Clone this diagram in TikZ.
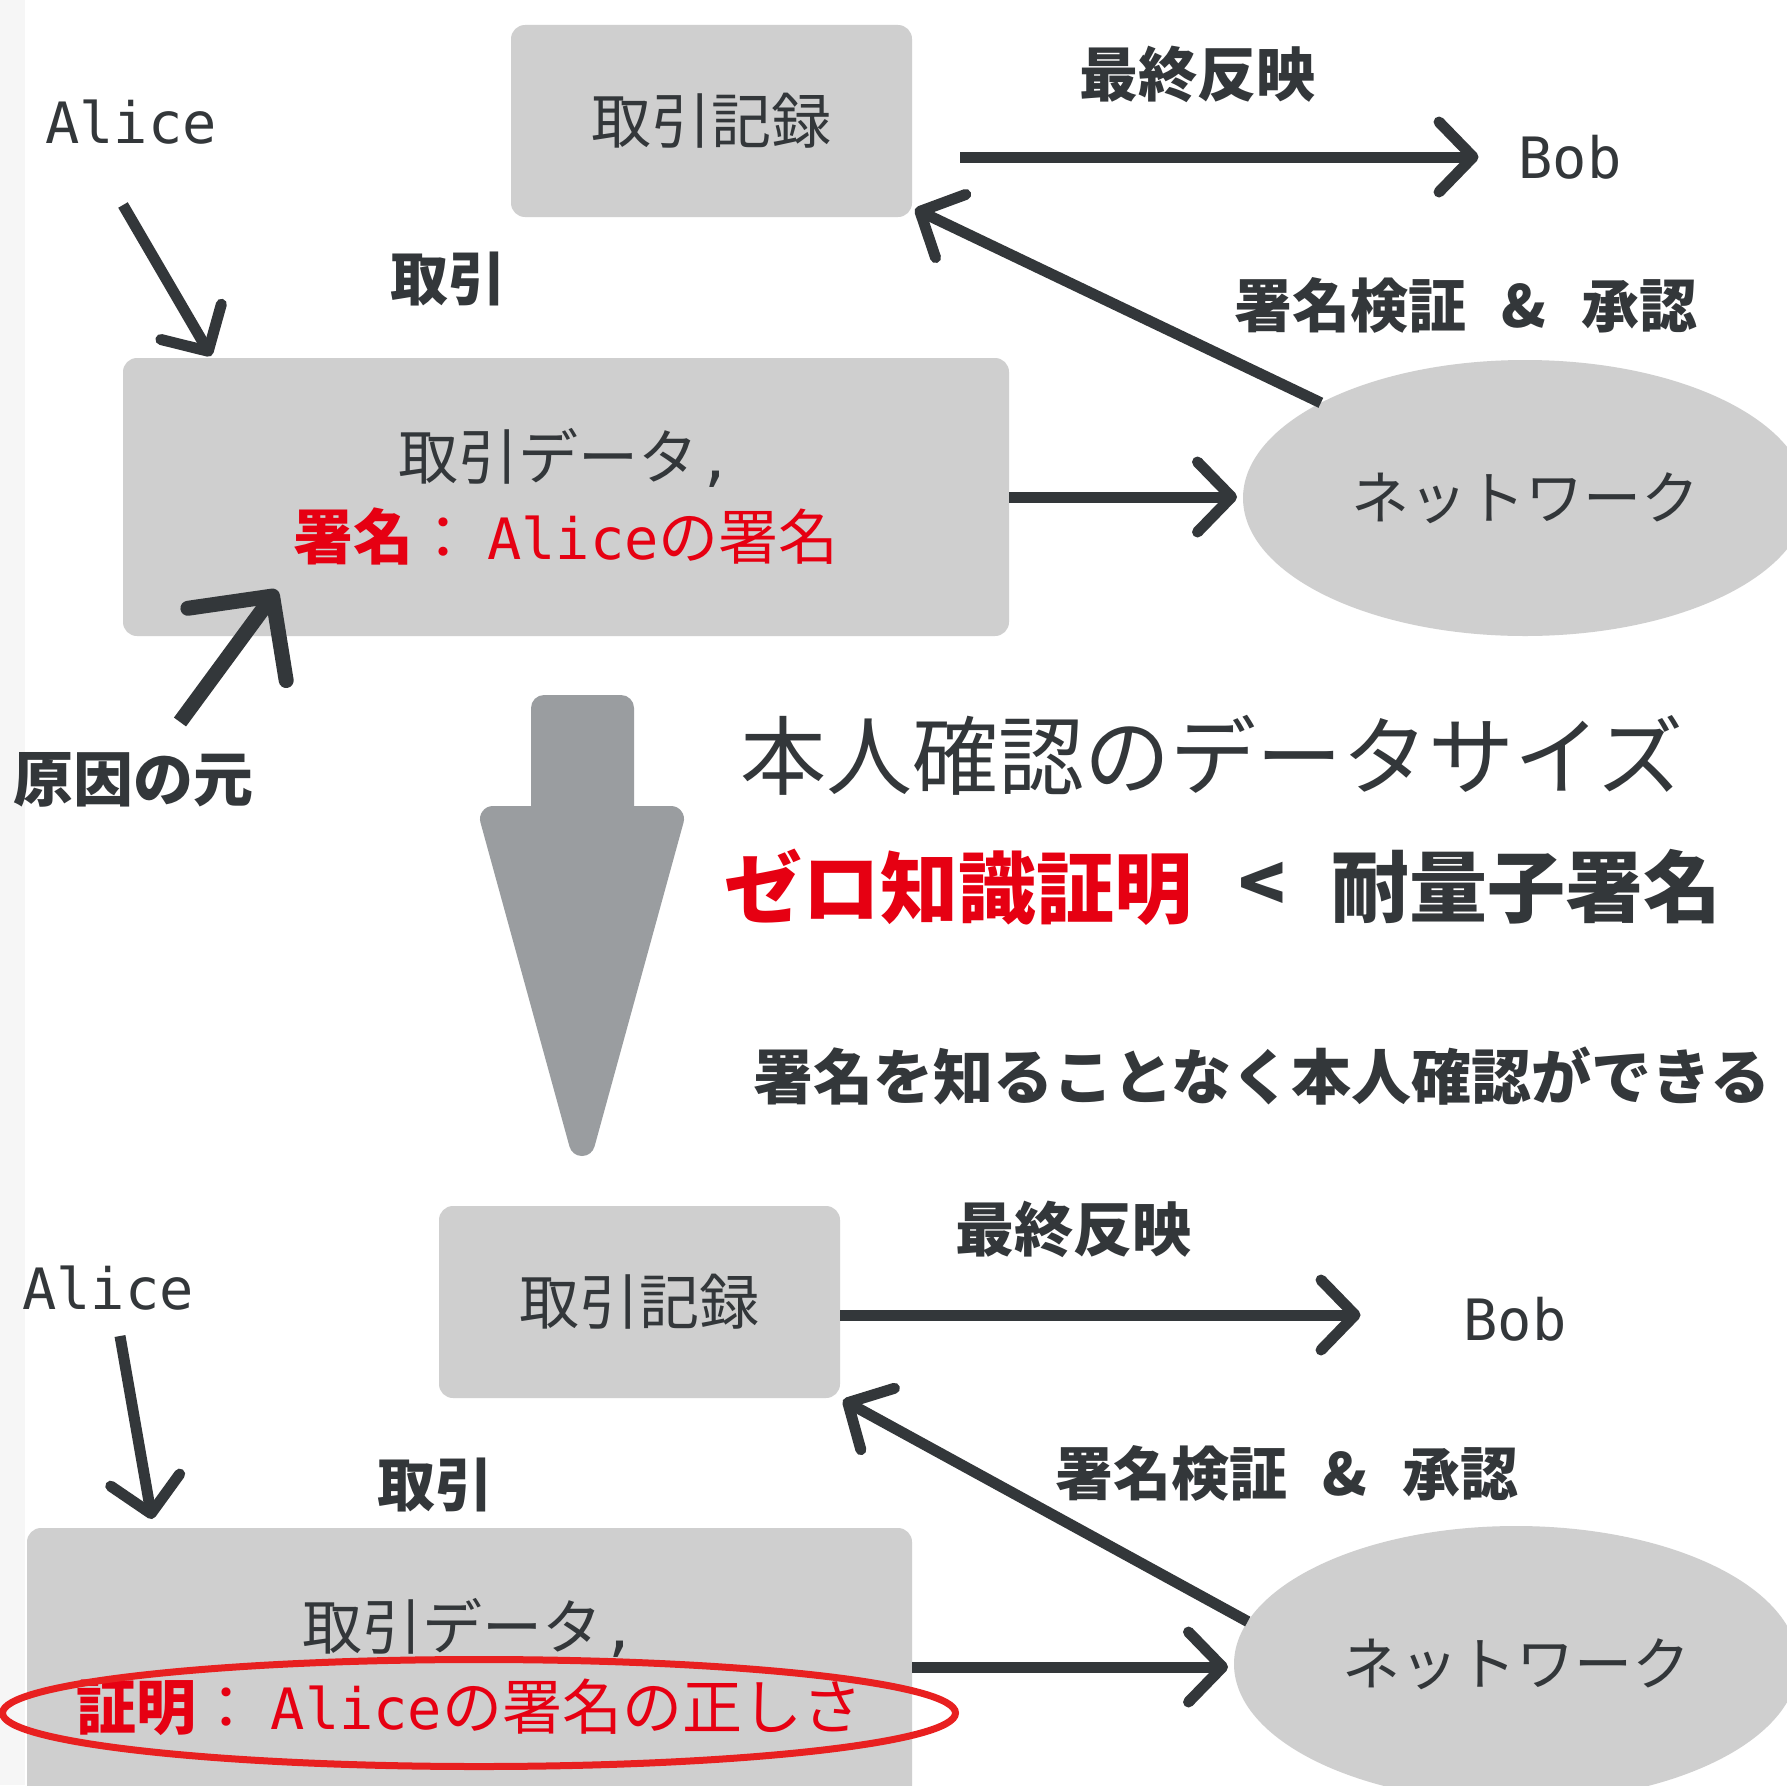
\documentclass[tikz,border=0pt]{standalone}
\usepackage{fontspec}
\setmainfont{Noto Sans CJK JP}
\newfontfamily\monof{DejaVu Sans Mono}
\usetikzlibrary{arrows.meta,shapes.geometric,calc}
\definecolor{dk}{HTML}{33373A}
\definecolor{boxc}{HTML}{CFCFCF}
\definecolor{rd}{HTML}{E60012}
\definecolor{rl}{HTML}{E82020}
\definecolor{garr}{HTML}{9A9DA0}
\definecolor{strip}{HTML}{F6F6F6}
\begin{document}
\begin{tikzpicture}[x=1pt,y=-1pt,
  every node/.style={inner sep=0pt, outer sep=0pt, text=dk},
  fs/.style={font=\fontsize{#1}{#1}\selectfont},
  bfs/.style={font=\fontsize{#1}{#1}\selectfont\bfseries},
  mono/.style={font=\fontsize{57}{57}\selectfont\monof},
  txtbox/.style={rectangle, rounded corners=14pt, fill=boxc, font=\fontsize{60}{80}\selectfont, align=center},
  recbox/.style={rectangle, rounded corners=14pt, fill=boxc, minimum width=401pt, minimum height=192pt, font=\fontsize{60}{60}\selectfont},
  net/.style={ellipse, fill=boxc, minimum width=564pt, minimum height=276pt, font=\fontsize{58}{58}\selectfont},
  arr/.style={draw=dk, line width=11pt, line cap=butt, -{Straight Barb[length=34pt,width=70pt,line join=round,line cap=round]}},
  fatarr/.style={draw=dk, line width=15pt, line cap=butt, -{Straight Barb[length=60pt,width=122pt,line join=round,line cap=round]}},
]
\useasboundingbox (0,0) rectangle (1787,1785);
\clip (0,0) rectangle (1787,1785);
\fill[white] (0,0) rectangle (1787,1785);
\fill[strip] (0,0) rectangle (25,1785);

% ---------- top part ----------
\node[recbox] (rec1) at (711.5,121) {取引記録};
\node[mono] (alice1) at (131,122) {Alice};
\node[bfs=59] (fin1) at (1197,74) {最終反映};
\node[mono] (bob1) at (1570,157) {Bob};
\node[bfs=58] (tr1) at (448,279) {取引};
\node[bfs=58] (ver1) at (1466,305) {署名検証\hspace{0.6em}\&\hspace{0.6em}承認};
\node[txtbox, minimum width=886pt, minimum height=278pt] (tx1) at (566,497)
  {取引データ{\fontsize{57}{80}\selectfont\monof ,}\\
   {\color{rd}{\bfseries 署名}：\hspace{14pt}{\fontsize{57}{80}\selectfont\monof Alice}の署名}};
\node[net] (net1) at (1525,498) {ネットワーク};
\node[bfs=60] (src) at (133,780) {原因の元};

\coordinate (a1) at (123,205);
\coordinate (f1) at (180,722);
\coordinate (f2) at (277,590);
\draw[arr] (a1) -- ($(tx1.north west)+(88,-2)$);
\draw[arr] ($(rec1.east |- bob1.west)+(48,0)$) -- ($(bob1.west)+(-40,0)$);
\draw[arr] (net1.155.5) -- ($(rec1.south east)+(3,-8)$);
\draw[arr] (tx1.east) -- ($(tx1.east -| net1.west)+(-6,0)$);
\draw[fatarr] (f1) -- (f2);

% ---------- middle ----------
\filldraw[garr, line width=26pt, line join=round]
  (493,819) -- (544,819) -- (544,708) -- (621,708) -- (621,819) -- (671,819) -- (582,1143) -- cycle;
\node[fs=86] (size) at (1212,755) {本人確認のデータサイズ};
\node[bfs=78, text=rd] (zkp) at (958,887) {ゼロ知識証明};
\node[bfs=78] (lt) at (1262,887) {<};
\node[bfs=78] (pq) at (1526,887) {耐量子署名};
\node[bfs=60] (note) at (1262,1076) {署名を知ることなく本人確認ができる};

% ---------- bottom part ----------
\node[recbox] (rec2) at (639.5,1302) {取引記録};
\node[mono] (alice2) at (108,1288) {Alice};
\node[bfs=59] (fin2) at (1073,1229) {最終反映};
\node[mono] (bob2) at (1515,1319) {Bob};
\node[bfs=58] (tr2) at (435,1485) {取引};
\node[bfs=58] (ver2) at (1287,1473) {署名検証\hspace{0.6em}\&\hspace{0.6em}承認};
\node[txtbox, minimum width=885pt, minimum height=278pt] (tx2) at (469.5,1667)
  {取引データ{\fontsize{57}{80}\selectfont\monof ,}\\
   {\color{rd}{\bfseries 証明}：\hspace{14pt}{\fontsize{57}{80}\selectfont\monof Alice}の署名の正しさ}};
\node[net] (net2) at (1516,1664) {ネットワーク};

\coordinate (a2) at (120,1336);
\draw[arr] (a2) -- ($(tx2.north west)+(125,-9)$);
\draw[arr] ($(rec2.east |- bob2.west)+(0,-4)$) -- ($(bob2.west)+(-103,-4)$);
\draw[arr] (net2.171.5) -- ($(rec2.south east)+(3,2)$);
\draw[arr] (tx2.east) -- ($(tx2.east -| net2.west)+(-6,0)$);

\node[ellipse, draw=rl, line width=7pt, minimum width=953pt, minimum height=107pt] (hl) at (479,1713) {};
\end{tikzpicture}
\end{document}
